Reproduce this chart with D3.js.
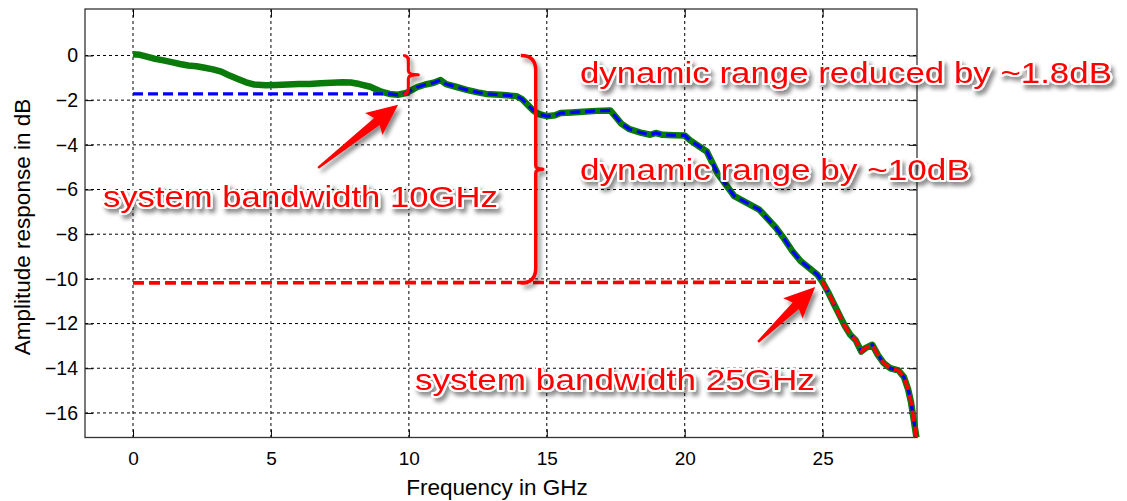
<!DOCTYPE html>
<html><head><meta charset="utf-8">
<script src="https://cdn.jsdelivr.net/npm/d3@7"></script>
<style>
html,body{margin:0;padding:0;background:#fff;}
svg{display:block;font-family:"Liberation Sans",Arial,sans-serif;}
</style></head>
<body>
<svg id="chart" width="1127" height="501"></svg>
<script>
// ---- data ----
const freqGHz = [0,0.25,0.5,0.8,1.1,1.4,1.7,2.0,2.3,2.6,2.9,3.2,3.5,3.8,4.1,4.4,4.8,5.2,5.6,6.0,6.4,6.8,7.2,7.6,7.9,8.2,8.6,9.0,9.3,9.6,9.9,10.1,10.3,10.6,10.9,11.15,11.35,11.7,12.1,12.5,12.8,13.3,13.9,14.1,14.3,14.5,14.7,15.0,15.3,15.5,15.9,16.3,16.8,17.3,17.5,17.7,18.0,18.4,18.75,18.95,19.2,19.6,20.0,20.2,20.5,20.8,21.0,21.2,21.5,21.8,22.1,22.4,22.7,23.0,23.3,23.6,23.9,24.2,24.5,24.8,25.0,25.2,25.4,25.6,25.8,26.0,26.2,26.4,26.55,26.8,27.0,27.2,27.45,27.75,27.95,28.1,28.2,28.3,28.4];
const ampDB   = [0.05,0.03,-0.05,-0.15,-0.22,-0.3,-0.38,-0.45,-0.48,-0.55,-0.62,-0.72,-0.9,-1.05,-1.2,-1.3,-1.33,-1.32,-1.3,-1.28,-1.28,-1.24,-1.22,-1.2,-1.21,-1.28,-1.4,-1.62,-1.72,-1.76,-1.68,-1.55,-1.42,-1.3,-1.22,-1.1,-1.28,-1.4,-1.54,-1.65,-1.72,-1.76,-1.82,-1.95,-2.2,-2.45,-2.62,-2.72,-2.68,-2.58,-2.55,-2.52,-2.48,-2.46,-2.75,-3.05,-3.3,-3.45,-3.55,-3.47,-3.55,-3.57,-3.58,-3.8,-4.05,-4.3,-4.8,-5.3,-5.8,-6.3,-6.5,-6.7,-6.9,-7.3,-7.7,-8.2,-8.75,-9.2,-9.5,-9.8,-10.15,-10.6,-11.1,-11.6,-12.1,-12.5,-12.75,-13.25,-13.1,-12.95,-13.4,-13.75,-14.0,-14.1,-14.4,-14.95,-15.5,-16.3,-17.1];
const blueLevel = -1.72, blueJoin = 9.3;
const redLevel = -10.18, redJoin = 25.0;
const xTicks = [0,5,10,15,20,25];
const yTicks = [-16,-14,-12,-10,-8,-6,-4,-2,0];
const xLabel = "Frequency in GHz";
const yLabel = "Amplitude response in dB";
const notes = [
  {text:"dynamic range reduced by ~1.8dB", f:16.2, a:-1.23, w:532},
  {text:"dynamic range by ~10dB",          f:16.2, a:-5.57, w:390},
  {text:"system bandwidth 10GHz",          f:-1.09, a:-6.78, w:395},
  {text:"system bandwidth 25GHz",          f:10.22, a:-14.97, w:400}
];
const arrows = [
  {tail:[6.71,-5.03], tip:[9.61,-2.21]},
  {tail:[22.66,-12.82], tip:[24.73,-10.36]}
];

// ---- layout ----
const svg = d3.select("#chart");
const L=85, R=917, T=9, B=437.5;
const x = d3.scaleLinear().domain([-1.74,28.42]).range([L,R]);
const y = d3.scaleLinear().domain([-17.1,2.08]).range([B,T]);

const defs = svg.append("defs");
const f = defs.append("filter").attr("id","sh").attr("x","-10%").attr("y","-30%").attr("width","130%").attr("height","170%");
f.append("feDropShadow").attr("dx",3).attr("dy",4).attr("stdDeviation",2.2).attr("flood-color","#000").attr("flood-opacity",0.45);
defs.append("clipPath").attr("id","clip").append("rect").attr("x",L).attr("y",T).attr("width",R-L+3).attr("height",B-T);

// grid
const g = svg.append("g");
g.selectAll(".gx").data(xTicks).enter().append("line")
  .attr("x1",d=>x(d)).attr("x2",d=>x(d)).attr("y1",T).attr("y2",B)
  .attr("stroke","#000").attr("stroke-width",1).attr("stroke-dasharray","3,3");
g.selectAll(".gy").data(yTicks).enter().append("line")
  .attr("y1",d=>y(d)).attr("y2",d=>y(d)).attr("x1",L).attr("x2",R)
  .attr("stroke","#000").attr("stroke-width",1).attr("stroke-dasharray","3,3");

// axes (inward ticks) via d3 axes
const tk = 8;
svg.append("g").attr("transform",`translate(0,${B})`)
  .call(d3.axisBottom(x).tickValues(xTicks).tickSize(-tk).tickPadding(14).tickFormat(d3.format("d")))
  .call(a=>{a.select(".domain").remove(); a.selectAll("line").attr("stroke","#000");
    a.selectAll("text").attr("font-size",19).attr("fill","#000").attr("font-family","Liberation Sans, Arial, sans-serif");});
svg.append("g").attr("transform",`translate(${L},0)`)
  .call(d3.axisLeft(y).tickValues(yTicks).tickSize(-tk).tickPadding(7).tickFormat(d3.format("d")))
  .call(a=>{a.select(".domain").remove(); a.selectAll("line").attr("stroke","#000");
    a.selectAll("text").attr("font-size",19.5).attr("fill","#000").attr("font-family","Liberation Sans, Arial, sans-serif");});
svg.append("g").attr("transform",`translate(0,${T})`)
  .call(d3.axisTop(x).tickValues(xTicks).tickSize(-tk).tickFormat(""))
  .call(a=>{a.select(".domain").remove(); a.selectAll("line").attr("stroke","#000");});
svg.append("g").attr("transform",`translate(${R},0)`)
  .call(d3.axisRight(y).tickValues(yTicks).tickSize(-tk).tickFormat(""))
  .call(a=>{a.select(".domain").remove(); a.selectAll("line").attr("stroke","#000");});

// box
svg.append("rect").attr("x",L).attr("y",T).attr("width",R-L).attr("height",B-T)
  .attr("fill","none").attr("stroke","#333").attr("stroke-width",1.3);

// axis titles
svg.append("text").attr("x",497).attr("y",495).attr("text-anchor","middle")
  .attr("font-size",22.5).attr("fill","#000").text(xLabel);
svg.append("text").attr("transform","translate(30,227) rotate(-90)").attr("text-anchor","middle")
  .attr("font-size",22.5).attr("fill","#000").text(yLabel);

// curves
const pts = freqGHz.map((f,i)=>[f,ampDB[i]]);
const line = d3.line().x(d=>x(d[0])).y(d=>y(d[1]));
const bluePts = [[0,blueLevel]].concat(pts.filter(p=>p[0]>=blueJoin));
const redPts = [[0,redLevel]].concat(pts.filter(p=>p[0]>=redJoin));
const cg = svg.append("g").attr("clip-path","url(#clip)");
cg.append("path").attr("d",line(pts)).attr("fill","none").attr("stroke","#0a7a0a").attr("stroke-width",6.5).attr("stroke-linejoin","round");
cg.append("path").attr("d",line(bluePts)).attr("fill","none").attr("stroke","#0000ff").attr("stroke-width",3.2).attr("stroke-dasharray","10,5");
cg.append("path").attr("d",line(redPts)).attr("fill","none").attr("stroke","#ff0000").attr("stroke-width",3.6).attr("stroke-dasharray","11,5");

// annotations
const ann = svg.append("g").attr("filter","url(#sh)");
function brace(fx, a0, a1, hook, tipLen){
  const X = x(fx), y0 = y(a0), y1 = y(a1), ym=(y0+y1)/2, h = hook;
  return `M${X-h},${y0} Q${X},${y0} ${X},${y0+h} L${X},${ym-4} Q${X},${ym} ${X+tipLen},${ym} Q${X},${ym} ${X},${ym+4} L${X},${y1-h} Q${X},${y1} ${X-h},${y1}`;
}
ann.append("path").attr("d",brace(9.98,0,-1.72,5,10)).attr("fill","none").attr("stroke","#ff0000").attr("stroke-width",3).attr("stroke-linejoin","round");
ann.append("path").attr("d",brace(14.6,0,redLevel,15,7)).attr("fill","none").attr("stroke","#ff0000").attr("stroke-width",3.5).attr("stroke-linejoin","round");

arrows.forEach(ar=>{
  const sx=x(ar.tail[0]), sy=y(ar.tail[1]), tx=x(ar.tip[0]), ty=y(ar.tip[1]);
  const dx=tx-sx, dy=ty-sy, len=Math.hypot(dx,dy), ux=dx/len, uy=dy/len, nx=-uy, ny=ux;
  const hl=31, hw=14, sw=4.5;
  const bx=tx-hl*ux, by=ty-hl*uy;
  const p=[[sx+1.2*nx,sy+1.2*ny],[bx+4*ux+sw*nx,by+4*uy+sw*ny],[bx+hw*nx,by+hw*ny],[tx,ty],[bx-hw*nx,by-hw*ny],[bx+4*ux-sw*nx,by+4*uy-sw*ny],[sx-1.2*nx,sy-1.2*ny]];
  ann.append("path").attr("d","M"+p.map(q=>q.join(",")).join("L")+"Z").attr("fill","#ff0000");
});

ann.selectAll(".note").data(notes).enter().append("text")
  .attr("x",d=>x(d.f)).attr("y",d=>y(d.a))
  .attr("font-size",30).attr("fill","#ff0000")
  .attr("stroke","#fff").attr("stroke-width",4).attr("paint-order","stroke").attr("stroke-linejoin","round")
  .attr("textLength",d=>d.w).attr("lengthAdjust","spacingAndGlyphs")
  .text(d=>d.text);
</script>
</body></html>
